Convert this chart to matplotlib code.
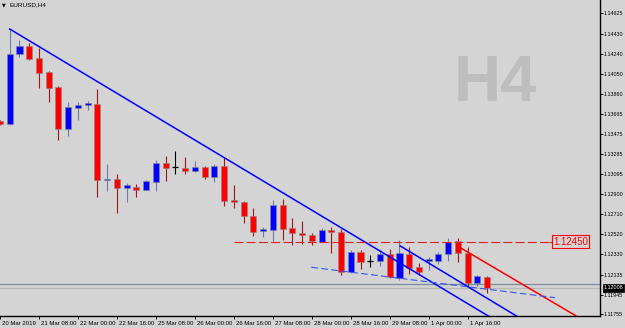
"""EURUSD H4 candles with trend lines, MT4 look."""
import matplotlib.pyplot as plt
import matplotlib.transforms as mtransforms

BG = "#D4D4D4"
BULL = "#0000FF"
BEAR = "#FF0000"

opens = [1.13600, 1.13570, 1.14237, 1.14313, 1.14199, 1.14066, 1.13923, 1.13522, 1.13723, 1.13751,
         1.13761, 1.13037, 1.13046, 1.12960, 1.12970, 1.12941, 1.13017, 1.13198, 1.13160, 1.13151,
         1.13122, 1.13160, 1.13065, 1.13170, 1.12846, 1.12827, 1.12693, 1.12550, 1.12560, 1.12798,
         1.12579, 1.12531, 1.12512, 1.12446, 1.12560, 1.12541, 1.12160, 1.12350, 1.12265, 1.12265,
         1.12331, 1.12103, 1.12331, 1.12207, 1.12265, 1.12265, 1.12331, 1.12455, 1.12341, 1.12055,
         1.12112]
highs = [1.13610, 1.14475, 1.14371, 1.14342, 1.14294, 1.14075, 1.13930, 1.13780, 1.13780, 1.13789,
         1.13904, 1.13189, 1.13094, 1.13008, 1.12998, 1.13037, 1.13227, 1.13265, 1.13313, 1.13256,
         1.13218, 1.13170, 1.13189, 1.13256, 1.12989, 1.12836, 1.12770, 1.12589, 1.12846, 1.12855,
         1.12674, 1.12646, 1.12531, 1.12579, 1.12589, 1.12570, 1.12369, 1.12369, 1.12322, 1.12369,
         1.12379, 1.12465, 1.12398, 1.12245, 1.12303, 1.12350, 1.12484, 1.12484, 1.12398, 1.12131,
         1.12122]
lows = [1.13565, 1.13565, 1.14209, 1.14180, 1.13913, 1.13780, 1.13418, 1.13456, 1.13608, 1.13704,
        1.12875, 1.12932, 1.12722, 1.12827, 1.12875, 1.12941, 1.12932, 1.13027, 1.13094, 1.13094,
        1.13113, 1.13046, 1.13017, 1.12789, 1.12770, 1.12627, 1.12503, 1.12493, 1.12455, 1.12465,
        1.12417, 1.12427, 1.12417, 1.12446, 1.12341, 1.12131, 1.12150, 1.12188, 1.12207, 1.12217,
        1.12103, 1.12084, 1.12141, 1.12131, 1.12179, 1.12236, 1.12265, 1.12255, 1.12017, 1.12026,
        1.11960]
closes = [1.13572, 1.14237, 1.14313, 1.14190, 1.14056, 1.13913, 1.13522, 1.13732, 1.13751, 1.13770,
          1.13037, 1.13046, 1.12960, 1.12989, 1.12941, 1.13027, 1.13198, 1.13151, 1.13160, 1.13122,
          1.13160, 1.13065, 1.13170, 1.12836, 1.12827, 1.12693, 1.12541, 1.12570, 1.12798, 1.12570,
          1.12531, 1.12512, 1.12455, 1.12560, 1.12541, 1.12160, 1.12350, 1.12255, 1.12262, 1.12331,
          1.12112, 1.12341, 1.12198, 1.12160, 1.12284, 1.12331, 1.12446, 1.12341, 1.12055, 1.12122,
          1.12008]

time_ticks = [0, 4, 8, 12, 16, 20, 24, 28, 32, 36, 40, 44, 48]
time_labels = ["20 Mar 2019", "21 Mar 08:00", "22 Mar 00:00", "22 Mar 16:00", "25 Mar 08:00",
               "26 Mar 00:00", "26 Mar 16:00", "27 Mar 08:00", "28 Mar 00:00", "28 Mar 16:00",
               "29 Mar 08:00", "1 Apr 00:00", "1 Apr 16:00"]
price_ticks = [1.14625, 1.14430, 1.14240, 1.14050, 1.13860, 1.13665, 1.13475, 1.13285, 1.13095,
               1.12900, 1.12710, 1.12520, 1.12330, 1.12135, 1.11945, 1.11755]

# trend objects: (bar, price) anchors
down_ray = [(1, 1.14475), (50, 1.11747)]
channel_ray = [(41.08, 1.12408), (53, 1.11741)]
red_ray = [(47.03, 1.12403), (59.13, 1.11741)]
support_seg = [(31.96, 1.12205), (56.97, 1.11915)]
level = 1.12450
level_span = (24.0, 56.3)
bid = 1.12008
ask = 1.12046

plt.rcParams["font.family"] = ["Liberation Sans", "DejaVu Sans"]
fig = plt.figure(figsize=(6.25, 3.28), dpi=100, facecolor=BG)
ax = fig.add_axes([0, 12 / 328, 600 / 625, 316 / 328], facecolor=BG)

# watermark
ax.text(0.825, 0.734, "H4", transform=ax.transAxes, ha="center", va="center",
        fontsize=47, fontweight="bold", color="#BEBEBE", zorder=0)

# bid / ask lines
ax.axhline(ask, color="#7E8CA0", lw=0.9, zorder=1)
ax.axhline(bid, color="#B8B8B8", lw=0.9, zorder=1)

for i, (o, h, l, c) in enumerate(zip(opens, highs, lows, closes)):
    if abs(c - o) < 0.00004:
        ax.vlines(i, l, h, color="black", lw=0.8, zorder=3)
        ax.hlines(o, i - 0.31, i + 0.31, color="black", lw=0.9, zorder=3)
        continue
    up = c > o
    body = BULL if up else BEAR
    wick = "#6E7AB0" if up else "#A01818"
    ax.vlines(i, l, h, color=wick, lw=0.8, zorder=2)
    ax.bar(i, abs(c - o), bottom=min(o, c), width=0.62, color=body,
           edgecolor="#8A8A8A", linewidth=0.4, zorder=3)


def ray(pts, color, lw, x_end=80):
    (x1, y1), (x2, y2) = pts
    slope = (y2 - y1) / (x2 - x1)
    ax.plot([x1, x_end], [y1, y1 + slope * (x_end - x1)], color=color, lw=lw, zorder=4)


ray(down_ray, "#0000FF", 1.1)
ray(channel_ray, "#0000FF", 1.1)
ray(red_ray, "#FF0000", 1.1)
ax.plot([p[0] for p in support_seg], [p[1] for p in support_seg], color="#3555F0",
        lw=0.8, dashes=(6, 3), zorder=4)

ax.hlines(level, *level_span, color="#E02020", lw=0.8, linestyles=(0, (8, 3)), zorder=4)
ax.hlines(level, level_span[1], 56.7, color="#E02020", lw=0.8, zorder=4)
ax.text(56.75, level, "1.12450", ha="left", va="center", fontsize=7, color="#FF0000", zorder=5,
        bbox=dict(boxstyle="square,pad=0.12", fc=BG, ec="#FF0000", lw=0.8))

ax.set_xlim(0.077, 61.58)
ax.set_ylim(1.117406, 1.147517)

for side in ["top", "left"]:
    ax.spines[side].set_visible(False)
for side in ["right", "bottom"]:
    ax.spines[side].set_color("black")
    ax.spines[side].set_linewidth(1.0)

ax.yaxis.tick_right()
ax.set_yticks(price_ticks)
ax.set_yticklabels([f"{p:.5f}" for p in price_ticks])
ax.tick_params(axis="y", direction="out", length=2, width=0.7, pad=0.6, labelsize=3.9)

ax.set_xticks(time_ticks)
ax.set_xticklabels(time_labels, ha="left")
ax.tick_params(axis="x", direction="out", length=2.5, width=0.7, pad=1.2, labelsize=4.3)
shift = mtransforms.ScaledTranslation(2 / 100, 0, fig.dpi_scale_trans)
for lab in ax.get_xticklabels():
    lab.set_transform(lab.get_transform() + shift)

# current price tag
tag_tr = mtransforms.blended_transform_factory(ax.transAxes, ax.transData)
ax.text(1.006, bid, "1.12008", transform=tag_tr, ha="left", va="center", fontsize=3.9,
        color="white", clip_on=False, zorder=6,
        bbox=dict(boxstyle="square,pad=0.2", fc="black", ec="black", lw=0.5))

fig.text(1.5 / 625, 1 - 5 / 328, "\u25bc", fontsize=3.5, va="center", ha="left",
         family="DejaVu Sans", color="black")
fig.text(9 / 625, 1 - 5 / 328, "EURUSD,H4", fontsize=4.6, va="center", ha="left", color="black")

fig.savefig("out.png", dpi=100, facecolor=BG)
